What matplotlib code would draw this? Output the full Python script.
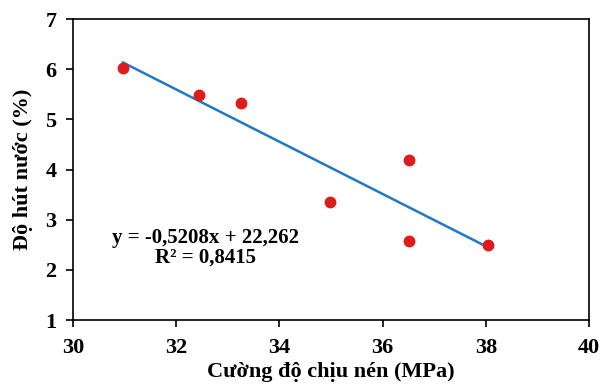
import numpy as np
import matplotlib.pyplot as plt

# compressive strength (MPa) vs water absorption (%)
strength = [30.97, 32.44, 33.26, 34.98, 36.51, 36.51, 38.04]
absorption = [6.03, 5.49, 5.33, 3.35, 4.19, 2.57, 2.50]

# linear trend from the chart
slope, intercept = -0.5208, 22.262
r2 = 0.8415

plt.rcParams['font.family'] = 'Liberation Serif'
plt.rcParams['font.weight'] = 'bold'

fig = plt.figure(figsize=(6.03, 3.88), dpi=100)
ax = fig.add_axes([0.121, 0.175, 0.856, 0.776])

xs = np.array([min(strength), max(strength)])
ax.plot(xs, slope * xs + intercept, color='#1f78c8', lw=1.8, zorder=2)
ax.plot(strength, absorption, 'o', color='#e01b1b', ms=7.5, zorder=3)

ax.set_xlim(30, 40)
ax.set_ylim(1, 7)
ax.set_xticks(range(30, 41, 2))
ax.set_yticks(range(1, 8))
ax.tick_params(direction='out', length=5, width=1.2, labelsize=16)
ax.tick_params(axis='x', pad=8)
ax.tick_params(axis='y', pad=7)
for s in ax.spines.values():
    s.set_linewidth(1.2)

ax.set_xlabel('Cường độ chịu nén (MPa)', fontsize=16, fontweight='bold', labelpad=3)
ax.set_ylabel('Độ hút nước (%)', fontsize=16, fontweight='bold', labelpad=9)

ax.text(32.56, 2.64, f'y = {slope}x + {intercept}'.replace('.', ','),
        ha='center', va='center', fontsize=15, fontweight='bold')
ax.text(32.56, 2.24, f'R² = {r2}'.replace('.', ','),
        ha='center', va='center', fontsize=15, fontweight='bold')

fig.savefig('out.png', dpi=100)
